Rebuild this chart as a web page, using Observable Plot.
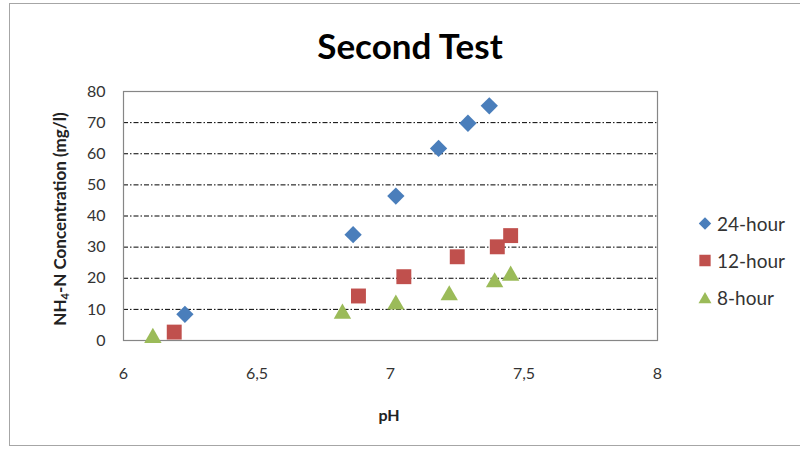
<!DOCTYPE html>
<html>
<head>
<meta charset="utf-8">
<script src="https://cdn.jsdelivr.net/npm/d3@7"></script>
<script src="https://cdn.jsdelivr.net/npm/@observablehq/plot@0.6"></script>
<style>
  html, body { margin: 0; padding: 0; background: #fff; }
  #wrap { position: relative; width: 800px; height: 450px; overflow: hidden; font-family: Lato, "Open Sans", sans-serif; }
  #frame { position: absolute; left: 9px; top: 3px; width: 900px; height: 443px; border: 1.5px solid #a6a6a6; box-sizing: border-box; }
  #title { position: absolute; left: 0; width: 820px; top: 25px; text-align: center; font-weight: bold; font-size: 35px; color: #000; line-height: 40px; }
  #ylab { position: absolute; left: 60px; top: 219px; transform: translate(-50%, -50%) rotate(-90deg); white-space: nowrap; font-weight: bold; font-size: 17px; color: #222; }
  #ylab sub { font-size: 11px; vertical-align: -3px; }
  #xlab { position: absolute; left: 389px; top: 414px; transform: translate(-50%, -50%); font-weight: bold; font-size: 16px; color: #222; }
  .leg { position: absolute; left: 697px; display: flex; align-items: center; font-size: 19px; color: #333; transform: translateY(-50%); }
  .leg svg { margin-right: 4px; }
  #chart { position: absolute; left: 0; top: 0; }
</style>
</head>
<body>
<div id="wrap">
  <div id="frame"></div>
  <div id="chart"></div>
  <div id="title">Second Test</div>
  <div id="ylab">NH<sub>4</sub>-N Concentration (mg/l)</div>
  <div id="xlab">pH</div>
  <div id="legend"></div>
</div>
<script>
// Data
const series = ["24-hour", "12-hour", "8-hour"];
const colors = ["#4a7ebb", "#c0504d", "#9bbb59"];
const symbols = ["diamond2", "square2", "triangle2"];
const pH24 = [6.23, 6.86, 7.02, 7.18, 7.29, 7.37];
const nh24 = [8.4, 34.0, 46.4, 61.7, 69.8, 75.4];
const pH12 = [6.19, 6.88, 7.05, 7.25, 7.40, 7.45];
const nh12 = [2.7, 14.3, 20.5, 26.9, 30.1, 33.7];
const pH8 = [6.11, 6.82, 7.02, 7.22, 7.39, 7.45];
const nh8 = [1.8, 9.6, 12.5, 15.5, 19.7, 21.8];
const xTicks = [6, 6.5, 7, 7.5, 8];
const yTicks = [0, 10, 20, 30, 40, 50, 60, 70, 80];
const gridY = [10, 20, 30, 40, 50, 60, 70];

const toRows = (xs, ys, s) => xs.map((x, i) => ({pH: x, nh: ys[i], series: s}));
const rows24 = toRows(pH24, nh24, series[0]);
const rows12 = toRows(pH12, nh12, series[1]);
const rows8 = toRows(pH8, nh8, series[2]);

const fmt = d => String(d).replace(".", ",");

const chart = Plot.plot({
  width: 800,
  height: 450,
  marginLeft: 123,
  marginRight: 143,
  marginTop: 91,
  marginBottom: 110,
  style: {fontFamily: "Lato, 'Open Sans', sans-serif", fontSize: "16px", color: "#333", background: "transparent"},
  x: {domain: [6, 8], label: null},
  y: {domain: [0, 80], label: null},
  marks: [
    Plot.ruleY(gridY, {stroke: "#000", strokeWidth: 1, strokeDasharray: "5,2,1.5,2"}),
    Plot.frame({stroke: "#868686", strokeWidth: 1.2}),
    Plot.axisX({ticks: xTicks, tickFormat: fmt, tickSize: 0, tickPadding: 27, label: null}),
    Plot.axisY({ticks: yTicks, tickSize: 0, tickPadding: 18, label: null}),
    Plot.dot(rows8, {x: "pH", y: "nh", symbol: () => symbols[2], fill: colors[2], r: 8.3, stroke: null, dy: 3}),
    Plot.dot(rows12, {x: "pH", y: "nh", symbol: () => symbols[1], fill: colors[1], r: 9.5, stroke: null}),
    Plot.dot(rows24, {x: "pH", y: "nh", symbol: () => symbols[0], fill: colors[0], r: 7.8, stroke: null})
  ],
  symbol: {domain: symbols, range: symbols}
});
document.getElementById("chart").appendChild(chart);

// Legend
const legY = [223, 260, 297];
const legSize = [5.6, 7.2, 6.2];
const symTypes = [d3.symbolDiamond2, d3.symbolSquare2, d3.symbolTriangle2];
const legend = document.getElementById("legend");
series.forEach((s, i) => {
  const div = document.createElement("div");
  div.className = "leg";
  div.style.top = legY[i] + "px";
  const svg = d3.create("svg").attr("width", 16).attr("height", 16);
  svg.append("path")
    .attr("transform", i === 2 ? "translate(8,10)" : "translate(8,8)")
    .attr("d", d3.symbol(symTypes[i], Math.PI * legSize[i] * legSize[i])())
    .attr("fill", colors[i]);
  div.appendChild(svg.node());
  const span = document.createElement("span");
  span.textContent = s;
  div.appendChild(span);
  legend.appendChild(div);
});
</script>
</body>
</html>
